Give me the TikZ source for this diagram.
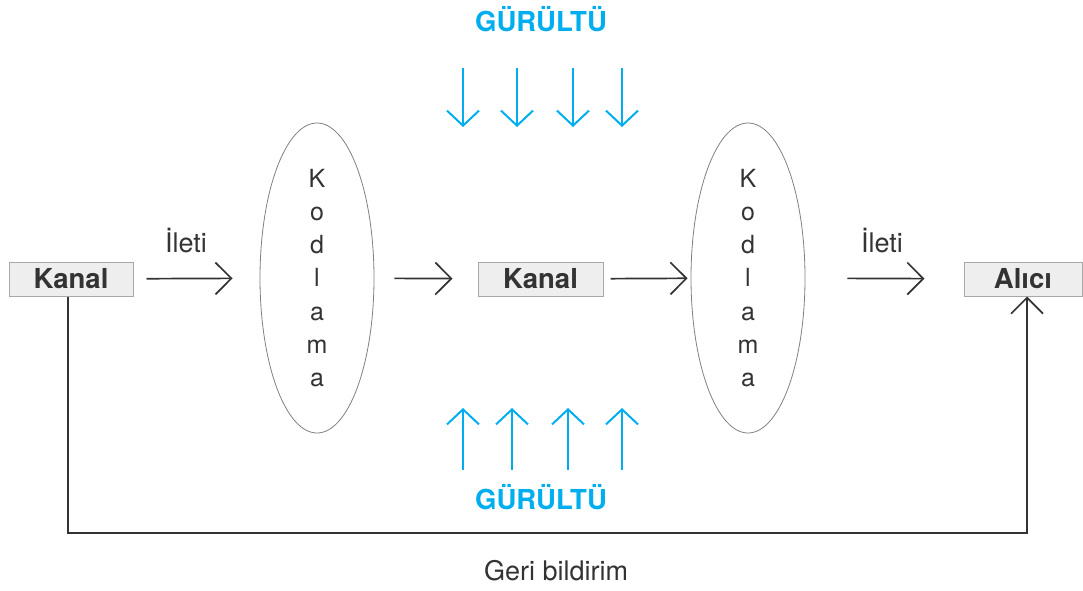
\documentclass[tikz,border=0pt]{standalone}
\usepackage{fontspec}
\setmainfont{TeX Gyre Heros}
\usetikzlibrary{arrows.meta,shapes.geometric}
\definecolor{noiseblue}{HTML}{00AEEF}
\definecolor{ink}{HTML}{333333}
\definecolor{boxfill}{HTML}{EEEEEE}
\definecolor{boxline}{HTML}{A8A8A8}
\tikzset{
  box/.style={draw=boxline, fill=boxfill, line width=1pt, minimum height=34pt,
    inner sep=0pt, text=ink, font=\fontsize{27.5}{30}\selectfont\bfseries},
  codec/.style={draw=gray, ellipse, line width=0.8pt, minimum width=114pt,
    minimum height=310pt, inner sep=0pt, text=ink, align=center,
    font=\fontsize{25}{33.2}\selectfont},
  flow/.style={draw=ink, line width=1.7pt, -{Straight Barb[length=16pt,width=32pt,line width=1.7pt]}},
  noise/.style={draw=noiseblue, line width=2pt, -{Straight Barb[length=15pt,width=32pt,line width=2pt]}},
  noiselabel/.style={text=noiseblue, font=\fontsize{27.5}{30}\selectfont\bfseries},
  lbl/.style={text=ink, font=\fontsize{27}{30}\selectfont}
}
\begin{document}
\begin{tikzpicture}[x=1pt,y=-1pt]
  \useasboundingbox (0,0) rectangle (1083,590);
  % kutular ve kodlama elipsleri
  \node[box, minimum width=124pt] (kanalA) at (71,279) {Kanal};
  \node[codec] (kodA) at (317,278) {K\\o\\d\\l\\a\\m\\a};
  \node[box, minimum width=125pt] (kanalB) at (540.5,279) {Kanal};
  \node[codec] (kodB) at (748,278) {K\\o\\d\\l\\a\\m\\a};
  \node[box, minimum width=118pt] (alici) at (1023,279) {Alıcı};
  % iletim oklari
  \draw[flow, shorten <=13pt, shorten >=27pt] (kanalA) -- (kodA);
  \draw[flow, shorten <=20pt, shorten >=25pt] (kodA) -- (kanalB);
  \draw[flow, shorten <=7pt, shorten >=3pt] (kanalB) -- (kodB);
  \draw[flow, shorten <=42pt, shorten >=39pt] (kodB) -- (alici);
  \node[lbl] (iletiA) at (186,241) {İleti};
  \node[lbl] (iletiB) at (882,241) {İleti};
  % geri bildirim
  \coordinate (fbA) at (68,533);
  \coordinate (fbB) at (1027,533);
  \draw[flow] ([xshift=-3pt]kanalA.south) -- (fbA) -- (fbB) -- ([xshift=4pt]alici.south);
  \node[lbl] (geri) at (556,571) {Geri bildirim};
  % gurultu
  \node[noiselabel] (noiseTop) at (541,19) {GÜRÜLTÜ};
  \node[noiselabel] (noiseBot) at (541,497) {GÜRÜLTÜ};
  \foreach \x [count=\i] in {463,517,573,622} {
    \coordinate (t\i) at (\x,68);
    \coordinate (tt\i) at (\x,127);
    \draw[noise] (t\i) -- (tt\i);
  }
  \foreach \x [count=\i] in {463,512,568,622} {
    \coordinate (b\i) at (\x,470);
    \coordinate (bb\i) at (\x,408);
    \draw[noise] (b\i) -- (bb\i);
  }
\end{tikzpicture}
\end{document}
